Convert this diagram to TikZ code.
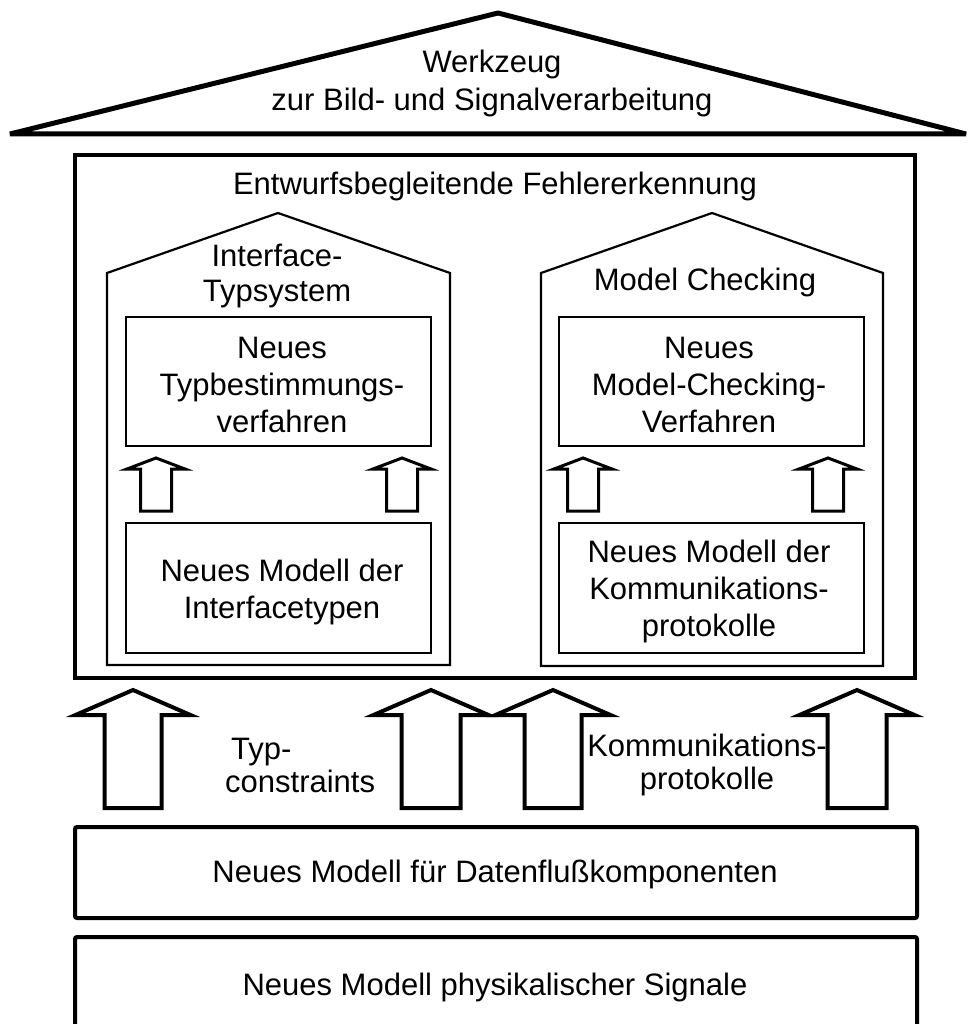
\documentclass[tikz,border=0pt]{standalone}
\usepackage{fontspec}
\setmainfont{Liberation Sans}
\begin{document}
\begin{tikzpicture}[x=1pt,y=-1pt,
  txt/.style={font=\fontsize{31}{37}\selectfont, align=center, inner sep=0pt},
  roofline/.style={line width=5pt, line join=bevel},
  frame/.style={line width=4pt},
  layer/.style={line width=4pt, rounded corners=2pt},
  house/.style={line width=2.2pt, line join=miter},
  inner/.style={line width=2pt},
  bigarrow/.style={line width=4pt, line join=miter},
  smallarrow/.style={line width=3pt, line join=miter},
  pics/uparrow/.style n args={5}{code={%
    % #1 head half width, #2 shaft half width, #3 head height, #4 total height, #5 style
    \draw[#5] (0,0) -- (#1,#3) -- (#2,#3) -- (#2,#4) -- (-#2,#4) -- (-#2,#3) -- (-#1,#3) -- cycle;
  }}
]
\useasboundingbox (0,0) rectangle (967,1024);

% roof
\draw[roofline] (10,134) -- (498,13) -- (966,134) -- cycle;
\node[txt, font=\fontsize{31}{38}\selectfont] (tool) at (492,83) {Werkzeug\\zur Bild- und Signalverarbeitung};

% main frame
\draw[frame] (75,155) rectangle (915,678);
\node[txt] (fehler) at (495,186) {Entwurfsbegleitende Fehlererkennung};

% left house: interface type system
\draw[house] (107,665) -- (107,273) -- (278,213) -- (450,273) -- (450,665) -- cycle;
\node[txt, font=\fontsize{31}{35}\selectfont] (typsys) at (277,276) {Interface-\\Typsystem};
\draw[inner] (126,317) rectangle (431,446);
\node[txt] (typverf) at (282,385) {Neues\\Typbestimmungs-\\verfahren};
\draw[inner] (126,523) rectangle (431,653);
\node[txt] (itmodell) at (282,592) {Neues Modell der\\Interfacetypen};
\pic at (156,458) {uparrow={29}{15.5}{11}{53}{smallarrow}};
\pic at (402,458) {uparrow={29}{15.5}{11}{53}{smallarrow}};

% right house: model checking
\draw[house] (541,666) -- (541,273) -- (712,213) -- (883,273) -- (883,666) -- cycle;
\node[txt] (mc) at (705,282) {Model Checking};
\draw[inner] (559,317) rectangle (864,446);
\node[txt] (mcverf) at (709,385) {Neues\\Model-Checking-\\Verfahren};
\draw[inner] (559,523) rectangle (864,653);
\node[txt] (kpmodell) at (709,591) {Neues Modell der\\Kommunikations-\\protokolle};
\pic at (583,458) {uparrow={29}{15.5}{11}{53}{smallarrow}};
\pic at (828,458) {uparrow={29}{15.5}{11}{53}{smallarrow}};

% arrows between the layers
\pic at (133,690) {uparrow={57.5}{28.5}{25}{118}{bigarrow}};
\pic at (431,690) {uparrow={57.5}{29.5}{25}{118}{bigarrow}};
\pic at (553,690) {uparrow={57.5}{28.5}{25}{118}{bigarrow}};
\pic at (857,690) {uparrow={57.5}{29.5}{25}{118}{bigarrow}};
\node[txt, font=\fontsize{31}{33}\selectfont, align=left, anchor=west] (typc) at (225,765) {\hspace{6pt}Typ-\\constraints};
\node[txt, font=\fontsize{31}{33}\selectfont] (kprot) at (707,765) {Kommunikations-\\protokolle};

% lower layers
\draw[layer] (75,827) rectangle (917,918);
\node[txt] (daten) at (495,874) {Neues Modell für Datenflußkomponenten};
\draw[layer] (75,937) rectangle (917,1060);
\node[txt] (signale) at (495,987) {Neues Modell physikalischer Signale};
\end{tikzpicture}
\end{document}
